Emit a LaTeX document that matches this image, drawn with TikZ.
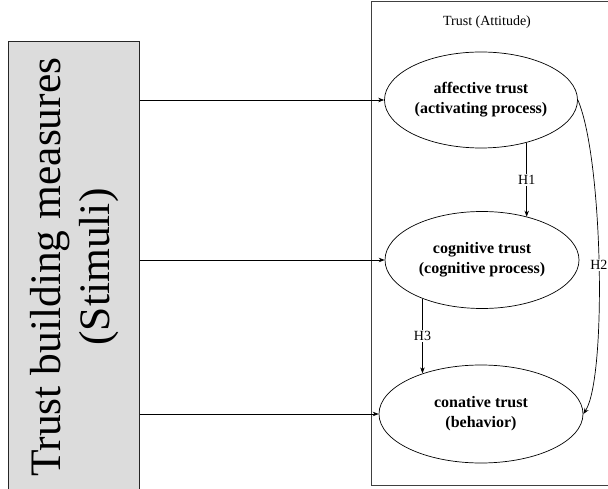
\documentclass[tikz,border=0pt]{standalone}
\usepackage{fontspec}
\setmainfont{Liberation Serif}
\usetikzlibrary{arrows.meta,shapes.geometric}
\definecolor{boxgray}{RGB}{220,220,220}
\tikzset{
  frameline/.style={draw=black!75, line width=0.9pt},
  construct/.style={draw, ellipse, line width=0.7pt, inner sep=0pt, align=center,
    font=\fontsize{16}{20}\selectfont\bfseries},
  link/.style={line width=0.7pt, -{Stealth[length=6pt,width=4.5pt]}},
  hlabel/.style={fill=white, inner sep=1.5pt, font=\fontsize{14}{16}\selectfont},
}
\begin{document}
\begin{tikzpicture}[x=1pt,y=1pt]
\useasboundingbox (0,0) rectangle (608,488);
\begin{scope}
\clip (0,0) rectangle (608,488);
% stimuli box
\node[frameline, fill=boxgray, draw=black!85, minimum width=131.5pt, minimum height=460pt,
  inner sep=0pt, anchor=north west] (stim) at (7.5,446.5) {};
\node[rotate=90, align=center, font=\fontsize{43.5}{49}\selectfont] (stimtext) at (75,221)
  {Trust building measures\\(Stimuli)};
% attitude frame
\node[frameline, minimum width=245pt, minimum height=484pt, inner sep=0pt,
  anchor=south west] (att) at (371,2) {};
\node[font=\fontsize{14}{16}\selectfont] (atttitle) at (487,466) {Trust (Attitude)};
% constructs
\node[construct, minimum width=193pt, minimum height=96pt] (aff) at (481,388)
  {affective trust\\(activating process)};
\node[construct, minimum width=194pt, minimum height=97pt] (cog) at (482,228)
  {cognitive trust\\(cognitive process)};
\node[construct, minimum width=204pt, minimum height=98pt] (con) at (481,74)
  {conative trust\\(behavior)};
% stimuli arrows
\draw[link] (stim.east |- aff.west) -- (aff.west);
\draw[link] (stim.east |- cog.west) -- (cog.west);
\draw[link] (stim.east |- con.west) -- (con.west);
% hypotheses
\draw[link] (aff.-43.4) -- (aff.-43.4 |- cog.44.5) node[hlabel, midway] (h1) {H1};
\draw[link] (cog.-147.6) -- (cog.-147.6 |- con.145.9) node[hlabel, midway] (h3) {H3};
\draw[link] (aff.east) .. controls (603,330) and (607,110) .. (con.east)
  node[hlabel, pos=0.5] (h2) {H2};
\end{scope}
\end{tikzpicture}
\end{document}
